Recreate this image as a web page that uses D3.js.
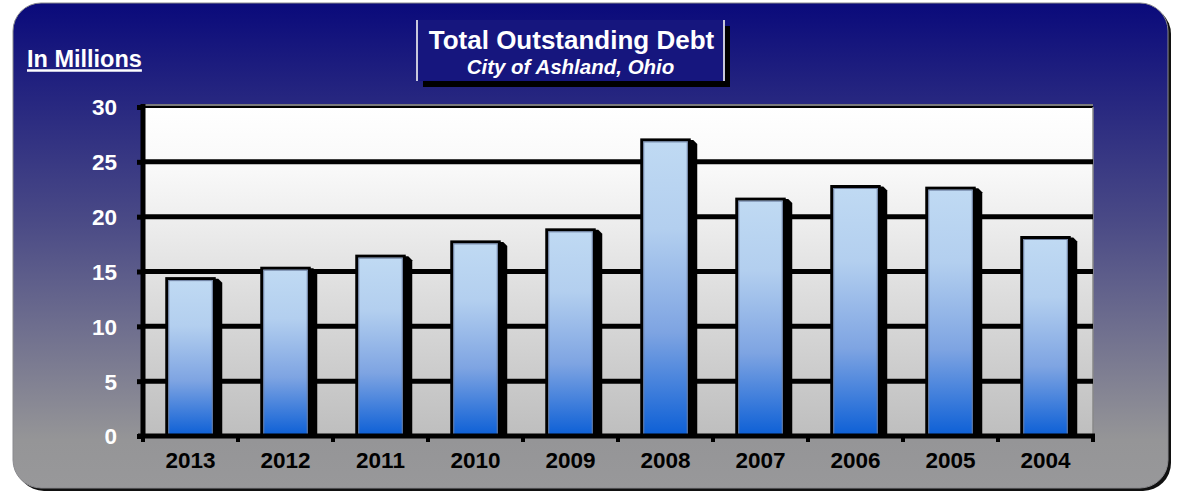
<!DOCTYPE html>
<html>
<head>
<meta charset="utf-8">
<script src="https://cdn.jsdelivr.net/npm/d3@7"></script>
<style>
  html, body { margin: 0; padding: 0; background: #ffffff; }
  svg { display: block; }
  text { font-family: "Liberation Sans", Arial, sans-serif; font-weight: bold; }
</style>
</head>
<body>
<svg id="chart" width="1178" height="491"></svg>
<script>
// Total outstanding debt by fiscal year, in millions of dollars
const years = ["2013", "2012", "2011", "2010", "2009", "2008", "2007", "2006", "2005", "2004"];
const debt = [14.35, 15.3, 16.4, 17.7, 18.8, 27.0, 21.6, 22.75, 22.6, 18.1];
const yTicks = [0, 5, 10, 15, 20, 25, 30];

const titleText = "Total Outstanding Debt";
const subtitleText = "City of Ashland, Ohio";
const unitText = "In Millions";

const svg = d3.select("#chart");
const defs = svg.append("defs");

// Panel background: navy fading to grey
const bgGrad = defs.append("linearGradient").attr("id", "bgGrad")
  .attr("x1", 0).attr("y1", 0).attr("x2", 0).attr("y2", 1);
bgGrad.append("stop").attr("offset", "0%").attr("stop-color", "#0a0a7b");
bgGrad.append("stop").attr("offset", "45%").attr("stop-color", "#4a4a86");
bgGrad.append("stop").attr("offset", "90%").attr("stop-color", "#959597");
bgGrad.append("stop").attr("offset", "100%").attr("stop-color", "#98989a");

// Plot area fill: white to light grey
const plotGrad = defs.append("linearGradient").attr("id", "plotGrad")
  .attr("x1", 0).attr("y1", 0).attr("x2", 0).attr("y2", 1);
plotGrad.append("stop").attr("offset", "0%").attr("stop-color", "#ffffff");
plotGrad.append("stop").attr("offset", "20%").attr("stop-color", "#f8f8f8");
plotGrad.append("stop").attr("offset", "100%").attr("stop-color", "#bebebe");

// Bar fill: pale blue to saturated blue
const barGrad = defs.append("linearGradient").attr("id", "barGrad")
  .attr("x1", 0).attr("y1", 0).attr("x2", 0).attr("y2", 1);
barGrad.append("stop").attr("offset", "0%").attr("stop-color", "#c0daf3");
barGrad.append("stop").attr("offset", "30%").attr("stop-color", "#b3cfef");
barGrad.append("stop").attr("offset", "65%").attr("stop-color", "#7ea4e2");
barGrad.append("stop").attr("offset", "100%").attr("stop-color", "#0c5fd6");

// Panel with drop shadow
svg.append("rect")
  .attr("x", 16).attr("y", 6).attr("width", 1155).attr("height", 485)
  .attr("rx", 28).attr("ry", 28).attr("fill", "#111");
svg.append("rect")
  .attr("x", 13).attr("y", 3).attr("width", 1155).attr("height", 485)
  .attr("rx", 28).attr("ry", 28).attr("fill", "url(#bgGrad)")
  .attr("stroke", "#8a8a8e").attr("stroke-width", 1);

const plot = { left: 143, right: 1093, top: 107, bottom: 436 };

const x = d3.scaleBand().domain(years).range([plot.left, plot.right]).paddingInner(0.5).paddingOuter(0.25);
const xBand = d3.scaleBand().domain(years).range([plot.left, plot.right]).padding(0);
const y = d3.scaleLinear().domain([0, 30]).range([plot.bottom, plot.top]);

// Plot area
svg.append("rect")
  .attr("x", plot.left).attr("y", plot.top)
  .attr("width", plot.right - plot.left).attr("height", plot.bottom - plot.top)
  .attr("fill", "url(#plotGrad)");
svg.append("line")
  .attr("x1", plot.left).attr("x2", plot.right)
  .attr("y1", plot.top - 2).attr("y2", plot.top - 2)
  .attr("stroke", "#7a7a7a").attr("stroke-width", 2);
svg.append("line")
  .attr("x1", plot.left).attr("x2", plot.right)
  .attr("y1", plot.top).attr("y2", plot.top)
  .attr("stroke", "#000").attr("stroke-width", 2);
svg.append("line")
  .attr("x1", plot.right).attr("x2", plot.right)
  .attr("y1", plot.top).attr("y2", plot.bottom)
  .attr("stroke", "#888").attr("stroke-width", 1.5);

// Horizontal gridlines
svg.append("g")
  .selectAll("line")
  .data(yTicks.filter(t => t > 0 && t < 30))
  .join("line")
  .attr("x1", plot.left).attr("x2", plot.right)
  .attr("y1", d => y(d)).attr("y2", d => y(d))
  .attr("stroke", "#000").attr("stroke-width", 5);

// Bars with offset shadow
const bars = svg.append("g");
bars.selectAll("path.shadow")
  .data(debt)
  .join("path")
  .attr("class", "shadow")
  .attr("d", (d, i) => {
    const x0 = x(years[i]), w = x.bandwidth(), top = y(d), s = 8;
    return `M${x0 + w - 2},${top} L${x0 + w + s - 4},${top} L${x0 + w + s},${top + 4} L${x0 + w + s},${plot.bottom} L${x0 + w - 2},${plot.bottom} Z`;
  })
  .attr("fill", "#000");
bars.selectAll("rect.bar")
  .data(debt)
  .join("rect")
  .attr("class", "bar")
  .attr("x", (d, i) => x(years[i]))
  .attr("y", d => y(d))
  .attr("width", x.bandwidth())
  .attr("height", d => plot.bottom - y(d))
  .attr("fill", "url(#barGrad)")
  .attr("stroke", "#000").attr("stroke-width", 3);
bars.selectAll("rect.inner")
  .data(debt)
  .join("rect")
  .attr("class", "inner")
  .attr("x", (d, i) => x(years[i]) + 2)
  .attr("y", d => y(d) + 2)
  .attr("width", x.bandwidth() - 4)
  .attr("height", d => plot.bottom - y(d) - 2)
  .attr("fill", "none")
  .attr("stroke", "#6d7fa0").attr("stroke-width", 1);

// Y axis
const yAxis = svg.append("g")
  .attr("transform", `translate(${plot.left},0)`)
  .call(d3.axisLeft(y).tickValues(yTicks).tickSize(6).tickPadding(20).tickFormat(d3.format("d")));
yAxis.select(".domain").attr("stroke", "#000").attr("stroke-width", 5)
  .attr("d", `M0,${plot.top - 3}V${plot.bottom + 2}`);
yAxis.selectAll(".tick line").attr("stroke", "#000").attr("stroke-width", 5);
yAxis.selectAll(".tick text")
  .attr("fill", "#fff").attr("font-size", 22.5)
  .attr("font-family", "'Liberation Sans', Arial, sans-serif").attr("font-weight", "bold")
  .attr("dy", "0.35em");

// X axis
const xAxis = svg.append("g")
  .attr("transform", `translate(0,${plot.bottom})`)
  .call(d3.axisBottom(xBand).tickSize(0).tickPadding(18));
xAxis.select(".domain").attr("stroke", "#000").attr("stroke-width", 5)
  .attr("d", `M${plot.left - 5},0H${plot.right + 2}`);
xAxis.selectAll(".tick text")
  .attr("fill", "#000").attr("font-size", 22.5)
  .attr("font-family", "'Liberation Sans', Arial, sans-serif").attr("font-weight", "bold")
  .attr("dy", "0.6em");
// Category boundary ticks
xAxis.append("g").selectAll("line")
  .data(years.concat(["end"]))
  .join("line")
  .attr("x1", (d, i) => plot.left + i * xBand.step())
  .attr("x2", (d, i) => plot.left + i * xBand.step())
  .attr("y1", 0).attr("y2", 6)
  .attr("stroke", "#000").attr("stroke-width", 4);

// Unit label, underlined
const unit = svg.append("text")
  .attr("x", 27).attr("y", 66.5)
  .attr("fill", "#fff").attr("font-size", 23.5)
  .text(unitText);
const unitW = unit.node().getComputedTextLength();
svg.append("line")
  .attr("x1", 27).attr("x2", 27 + unitW)
  .attr("y1", 70.5).attr("y2", 70.5)
  .attr("stroke", "#fff").attr("stroke-width", 2.5);

// Title box
const box = { x: 417, y: 20, w: 307, h: 61 };
svg.append("rect")
  .attr("x", box.x + 6).attr("y", box.y + 6).attr("width", box.w).attr("height", box.h)
  .attr("fill", "#000");
svg.append("rect")
  .attr("x", box.x).attr("y", box.y).attr("width", box.w).attr("height", box.h)
  .attr("fill", "#16167e");
svg.selectAll("line.boxEdge")
  .data([box.x, box.x + box.w])
  .join("line")
  .attr("class", "boxEdge")
  .attr("x1", d => d).attr("x2", d => d)
  .attr("y1", box.y).attr("y2", box.y + box.h)
  .attr("stroke", "#c8c8dc").attr("stroke-width", 2);
svg.append("text")
  .attr("x", box.x + box.w / 2 + 1).attr("y", 48.5)
  .attr("text-anchor", "middle")
  .attr("fill", "#fff").attr("font-size", 26)
  .text(titleText);
svg.append("text")
  .attr("x", box.x + box.w / 2).attr("y", 74)
  .attr("text-anchor", "middle")
  .attr("fill", "#fff").attr("font-size", 20.5).attr("font-style", "italic")
  .text(subtitleText);
</script>
</body>
</html>
